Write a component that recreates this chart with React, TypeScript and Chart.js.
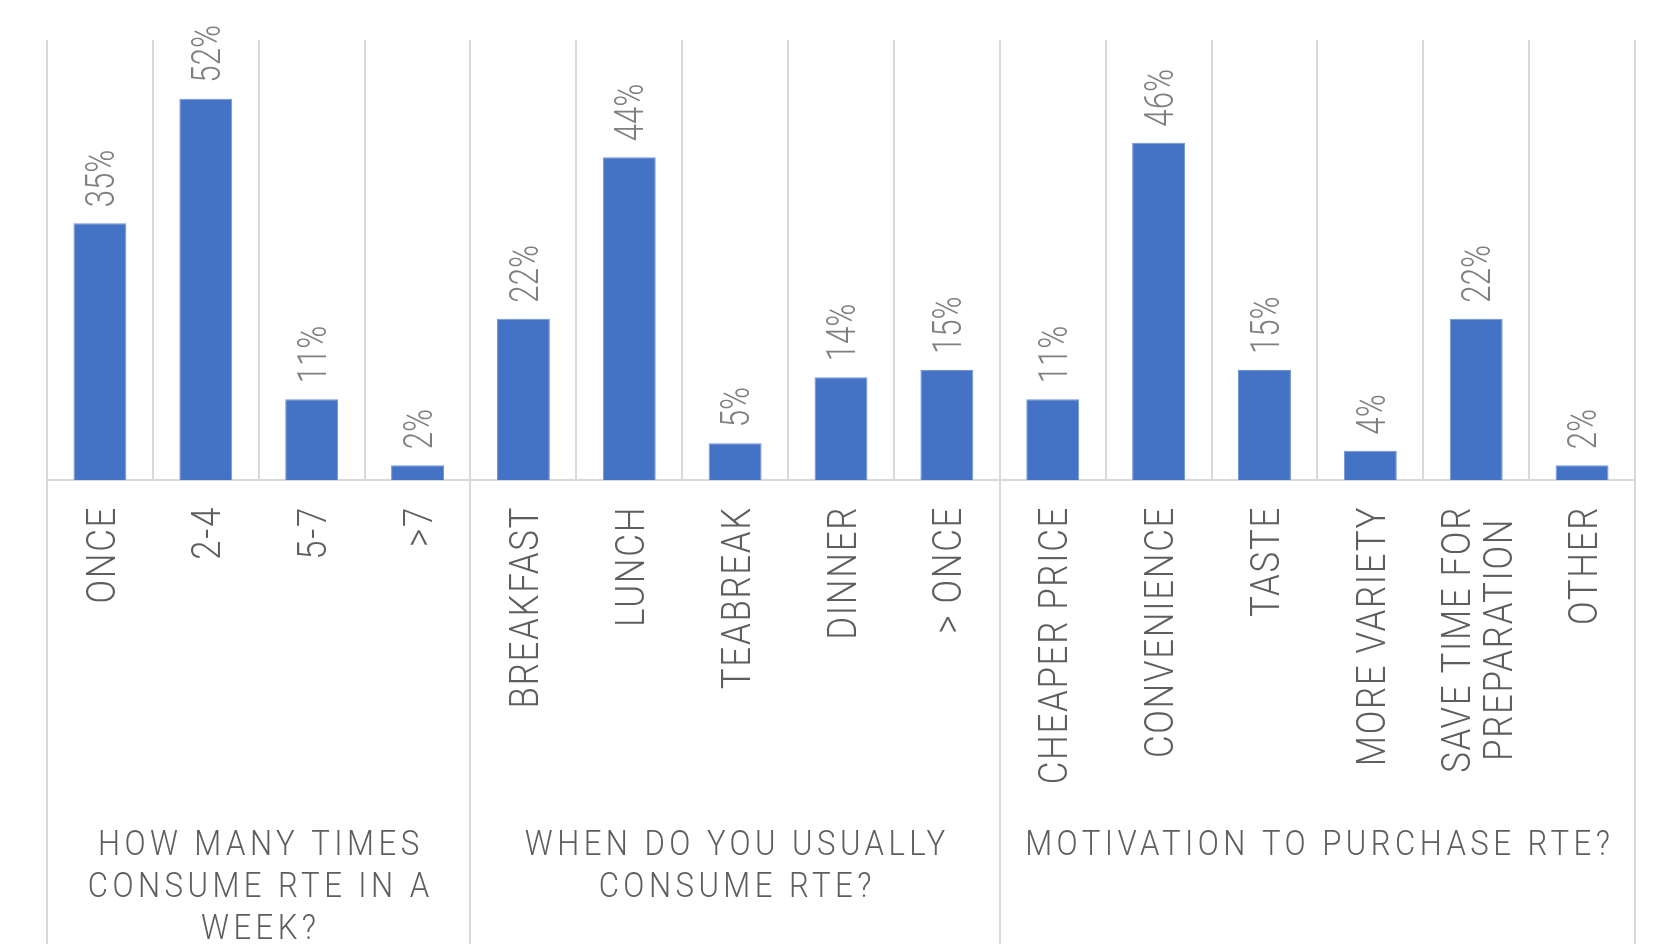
import React, { useEffect, useRef } from 'react';
import { Chart, registerables } from 'chart.js';

Chart.register(...registerables);

const categories: (string | string[])[] = [
  'ONCE', '2-4', '5-7', '>7',
  'BREAKFAST', 'LUNCH', 'TEABREAK', 'DINNER', '> ONCE',
  'CHEAPER PRICE', 'CONVENIENCE', 'TASTE', 'MORE VARIETY', ['SAVE TIME FOR', 'PREPARATION'], 'OTHER',
];
const values = [0.35, 0.52, 0.11, 0.02, 0.22, 0.44, 0.05, 0.14, 0.15, 0.11, 0.46, 0.15, 0.04, 0.22, 0.02];
const groupLabels: string[][] = [
  ['HOW MANY TIMES', 'CONSUME RTE IN A', 'WEEK?'],
  ['WHEN DO YOU USUALLY', 'CONSUME RTE?'],
  ['MOTIVATION TO PURCHASE RTE?'],
];
const groupSizes = [4, 5, 6];
const yMax = 0.6;

const FONT = "Roboto, 'DejaVu Sans Condensed', sans-serif";
const GRID = '#d9d9d9';

const overlayPlugin = {
  id: 'overlay',
  afterDraw(chart: any) {
    const ctx: CanvasRenderingContext2D = chart.ctx;
    const xs = chart.scales.x;
    const area = chart.chartArea;
    const step = xs.getPixelForValue(1) - xs.getPixelForValue(0);
    const boundary = (b: number) => Math.round(xs.getPixelForValue(b) - step / 2);

    // group separators extending below axis
    const bounds = [0];
    let acc = 0;
    groupSizes.forEach((s) => { acc += s; bounds.push(acc); });
    ctx.save();
    ctx.strokeStyle = GRID;
    ctx.lineWidth = 2;
    bounds.forEach((b) => {
      const x = boundary(b);
      ctx.beginPath();
      ctx.moveTo(x, area.bottom);
      ctx.lineTo(x, chart.height);
      ctx.stroke();
    });
    ctx.restore();

    // category tick labels (rotated)
    const tickSize = 41;
    const tickScale = 0.85;
    const capT = tickSize * 0.711;
    ctx.save();
    ctx.font = `300 ${tickSize}px ${FONT}`;
    (ctx as any).letterSpacing = '2px';
    ctx.fillStyle = '#5e5e5e';
    categories.forEach((lab, i) => {
      const lines = Array.isArray(lab) ? lab : [lab];
      const maxW = Math.max(...lines.map((l) => ctx.measureText(l).width));
      const x = xs.getPixelForValue(i);
      ctx.save();
      ctx.translate(x, area.bottom + 26);
      ctx.rotate(-Math.PI / 2);
      ctx.scale(tickScale, 1);
      ctx.textAlign = 'center';
      ctx.textBaseline = 'alphabetic';
      lines.forEach((l, j) => {
        const off = (j - (lines.length - 1) / 2) * 42;
        ctx.fillText(l, -maxW / 2, off + capT / 2);
      });
      ctx.restore();
    });
    ctx.restore();

    // value labels
    const valSize = 40;
    const valScale = 0.78;
    const capV = valSize * 0.711;
    const meta = chart.getDatasetMeta(0);
    ctx.save();
    ctx.font = `300 ${valSize}px ${FONT}`;
    ctx.fillStyle = '#7f7f7f';
    meta.data.forEach((bar: any, i: number) => {
      ctx.save();
      ctx.translate(bar.x, bar.y - 16);
      ctx.rotate(-Math.PI / 2);
      ctx.scale(valScale, 1);
      ctx.textAlign = 'left';
      ctx.textBaseline = 'alphabetic';
      ctx.fillText(Math.round(values[i] * 100) + '%', 0, capV / 2);
      ctx.restore();
    });
    ctx.restore();

    // group labels
    const gSize = 35;
    const gScale = 0.89;
    const gSpacing = 5;
    ctx.save();
    ctx.font = `300 ${gSize}px ${FONT}`;
    (ctx as any).letterSpacing = `${gSpacing}px`;
    ctx.fillStyle = '#5e5e5e';
    ctx.textAlign = 'center';
    ctx.textBaseline = 'alphabetic';
    groupLabels.forEach((lines, g) => {
      const cx = (boundary(bounds[g]) + boundary(bounds[g + 1])) / 2 + (gSpacing * gScale) / 2;
      lines.forEach((l, j) => {
        ctx.save();
        ctx.translate(cx, area.bottom + 375 + j * 42);
        ctx.scale(gScale, 1);
        ctx.fillText(l, 0, 0);
        ctx.restore();
      });
    });
    ctx.restore();
  },
};

export default function App() {
  const ref = useRef<HTMLCanvasElement | null>(null);
  useEffect(() => {
    if (!ref.current) return;
    const chart = new Chart(ref.current, {
      type: 'bar',
      data: {
        labels: categories as any,
        datasets: [
          {
            data: values,
            backgroundColor: '#4472C4',
            borderColor: '#7196d8',
            borderWidth: 1,
            barPercentage: 0.5,
            categoryPercentage: 1.0,
          },
        ],
      },
      options: {
        animation: false,
        responsive: false,
        devicePixelRatio: 1,
        layout: { padding: { left: 47, right: 20, top: 40, bottom: 0 } },
        plugins: { legend: { display: false }, tooltip: { enabled: false } },
        scales: {
          x: {
            offset: true,
            grid: { offset: true, color: GRID, lineWidth: 2, drawTicks: false },
            border: { display: true, color: GRID, width: 2 },
            ticks: { display: false },
            afterFit: (s: any) => { s.height = 464; },
          },
          y: { display: false, min: 0, max: yMax },
        },
      },
      plugins: [overlayPlugin],
    });
    return () => chart.destroy();
  }, []);
  return (
    <div style={{ position: 'absolute', left: 0, top: 0, width: 1655, height: 944, background: '#fff' }}>
      <canvas ref={ref} width={1655} height={944} />
    </div>
  );
}
